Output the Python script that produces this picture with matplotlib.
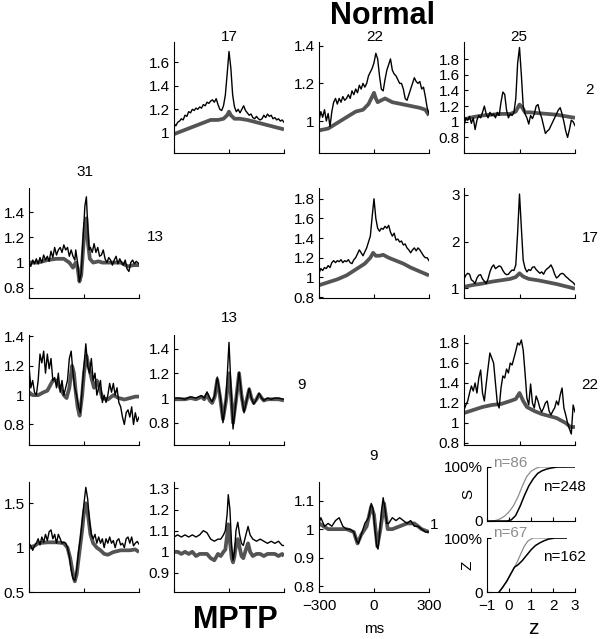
import matplotlib
matplotlib.use("Agg")
import matplotlib.pyplot as plt

plt.rcParams['font.family'] = ['Liberation Sans', 'DejaVu Sans']

# ---------------- data ----------------
t10 = list(range(-300, 301, 10))

# Row 1, col 2  (title 17)
blk_A = [1.08, 1.06, 1.09, 1.1, 1.12, 1.11, 1.15, 1.14, 1.18, 1.17, 1.2, 1.19, 1.21, 1.2, 1.22, 1.21,
         1.24, 1.23, 1.26, 1.25, 1.27, 1.28, 1.26, 1.29, 1.24, 1.2, 1.19, 1.23, 1.32, 1.5, 1.69, 1.55,
         1.32, 1.22, 1.18, 1.2, 1.17, 1.2, 1.23, 1.19, 1.17, 1.15, 1.16, 1.13, 1.12, 1.14, 1.12, 1.11,
         1.12, 1.15, 1.13, 1.16, 1.14, 1.15, 1.12, 1.13, 1.11, 1.12, 1.1, 1.11, 1.09]
t_gA = [-300, -250, -200, -150, -100, -60, -30, -10, 0, 10, 30, 60, 100, 150, 200, 250, 300]
gry_A = [0.99, 1.02, 1.05, 1.08, 1.11, 1.11, 1.12, 1.15, 1.18, 1.15, 1.12, 1.12, 1.11, 1.09, 1.07, 1.05, 1.03]

# Row 1, col 3  (title 22)
blk_B = [1.0, 1.05, 1.02, 1.06, 1.0, 1.04, 0.97, 1.05, 1.1, 1.12, 1.09, 1.12, 1.1, 1.13, 1.11, 1.12,
         1.14, 1.12, 1.16, 1.14, 1.17, 1.15, 1.19, 1.17, 1.2, 1.18, 1.2, 1.24, 1.26, 1.28, 1.31, 1.36,
         1.33, 1.24, 1.17, 1.16, 1.22, 1.27, 1.3, 1.33, 1.27, 1.25, 1.24, 1.22, 1.2, 1.2, 1.17, 1.12,
         1.11, 1.14, 1.17, 1.2, 1.23, 1.21, 1.2, 1.21, 1.17, 1.18, 1.13, 1.07, 1.04]
t_gB = [-300, -250, -200, -150, -100, -60, -30, -10, 0, 10, 20, 40, 60, 100, 150, 200, 250, 280, 300]
gry_B = [0.95, 0.96, 0.99, 1.02, 1.05, 1.06, 1.09, 1.13, 1.15, 1.12, 1.1, 1.11, 1.12, 1.1, 1.09, 1.08, 1.07, 1.06, 1.03]

# Row 1, col 4  (title 25)
blk_C = [0.95, 1.05, 1.02, 1.07, 0.98, 1.05, 0.9, 1.02, 1.08, 1.05, 1.12, 1.2, 1.1, 1.05, 1.12, 1.08,
         1.1, 1.05, 1.12, 1.08, 1.25, 1.38, 1.35, 1.15, 1.05, 1.1, 1.08, 1.12, 1.3, 1.75, 1.95, 1.6,
         1.2, 1.1, 1.05, 0.97, 1.08, 1.04, 1.1, 1.2, 1.22, 1.12, 1.05, 0.95, 0.85, 0.88, 0.9, 0.95,
         1.0, 1.05, 1.1, 1.15, 1.18, 1.1, 1.0, 0.88, 0.8, 0.9, 1.02, 1.0, 0.95]
t_gC = [-300, -250, -200, -150, -100, -50, -20, 0, 15, 30, 60, 100, 150, 200, 250, 300]
gry_C = [1.03, 1.06, 1.08, 1.09, 1.1, 1.1, 1.13, 1.22, 1.18, 1.12, 1.12, 1.11, 1.1, 1.09, 1.07, 1.05]

# Row 2, col 1  (title 31)
t_bD = [-300, -290, -280, -270, -260, -250, -240, -230, -220, -210, -200, -190, -180, -170, -160, -150,
        -140, -130, -120, -110, -100, -90, -80, -70, -60, -50, -45, -35, -25, -15, -5, 5, 13, 20, 28,
        35, 45, 55, 65, 75, 85, 95, 105, 115, 125, 135, 145, 155, 165, 175, 185, 195, 205, 215, 225,
        235, 245, 255, 265, 275, 285, 300]
blk_D = [1.0, 0.97, 1.02, 0.99, 1.03, 0.99, 1.04, 1.0, 1.06, 1.02, 1.05, 1.01, 1.09, 1.04, 1.12, 1.06,
         1.1, 1.12, 1.08, 1.14, 1.1, 1.12, 1.05, 1.1, 1.05, 1.02, 1.1, 1.0, 0.85, 0.92, 1.2, 1.45, 1.52,
         1.3, 1.1, 1.12, 1.08, 1.15, 1.08, 1.12, 1.05, 1.06, 1.1, 1.03, 1.0, 1.04, 1.02, 0.98, 1.02,
         1.05, 0.99, 1.03, 1.0, 0.98, 1.02, 0.95, 0.93, 1.0, 1.02, 0.99, 1.01, 0.99]
t_gD = [-300, -250, -200, -150, -110, -80, -60, -45, -35, -25, -15, -5, 5, 13, 22, 32, 50, 80, 100,
        150, 200, 240, 270, 300]
gry_D = [1.0, 1.0, 1.02, 1.03, 1.03, 1.0, 0.96, 1.0, 0.96, 0.85, 0.9, 1.1, 1.3, 1.35, 1.15, 1.03,
         1.0, 1.01, 1.0, 1.0, 1.0, 0.97, 0.98, 0.98]

# Row 2, col 3
blk_E = [1.04, 1.09, 1.07, 1.1, 1.09, 1.12, 1.1, 1.15, 1.17, 1.15, 1.17, 1.16, 1.18, 1.15, 1.17, 1.16,
         1.18, 1.15, 1.14, 1.18, 1.2, 1.24, 1.28, 1.25, 1.22, 1.26, 1.3, 1.36, 1.42, 1.62, 1.8, 1.6,
         1.5, 1.47, 1.5, 1.49, 1.52, 1.5, 1.53, 1.46, 1.42, 1.45, 1.38, 1.39, 1.36, 1.37, 1.33, 1.34,
         1.3, 1.28, 1.25, 1.28, 1.3, 1.27, 1.3, 1.28, 1.25, 1.22, 1.2, 1.2, 1.17]
t_gE = [-300, -250, -200, -150, -100, -50, -20, -5, 10, 30, 50, 80, 120, 160, 200, 250, 300]
gry_E = [0.92, 0.95, 0.98, 1.02, 1.08, 1.14, 1.2, 1.25, 1.22, 1.22, 1.23, 1.2, 1.17, 1.14, 1.1, 1.06, 1.02]

# Row 2, col 4
blk_F = [1.2, 1.28, 1.32, 1.3, 1.18, 1.15, 1.1, 1.22, 1.28, 1.29, 1.2, 1.15, 1.1, 1.2, 1.35, 1.45,
         1.5, 1.42, 1.45, 1.48, 1.46, 1.38, 1.32, 1.29, 1.3, 1.35, 1.39, 1.38, 1.5, 2.2, 3.02, 2.3,
         1.6, 1.43, 1.35, 1.4, 1.38, 1.45, 1.46, 1.4, 1.36, 1.32, 1.35, 1.3, 1.38, 1.42, 1.45, 1.5,
         1.42, 1.3, 1.22, 1.25, 1.3, 1.32, 1.3, 1.25, 1.22, 1.18, 1.15, 1.12, 1.07]
t_gF = [-300, -250, -200, -150, -100, -50, -20, 0, 20, 50, 100, 150, 200, 250, 300]
gry_F = [1.03, 1.07, 1.1, 1.14, 1.17, 1.2, 1.24, 1.32, 1.25, 1.2, 1.17, 1.13, 1.09, 1.04, 0.99]

# Row 3, col 1
blk_G = [1.2, 1.05, 1.1, 1.02, 1.0, 1.1, 1.28, 1.22, 1.3, 1.15, 1.28, 1.18, 1.25, 1.1, 1.12, 1.05,
         1.15, 1.02, 1.1, 1.0, 1.05, 1.1, 1.25, 1.3, 1.15, 1.05, 1.0, 0.92, 0.88, 1.05, 1.2, 1.35,
         1.2, 1.15, 1.25, 1.1, 1.15, 1.0, 1.05, 1.1, 0.95, 1.0, 0.95, 1.0, 1.08, 1.02, 1.08, 1.0,
         1.05, 0.95, 0.92, 0.85, 0.8, 0.88, 0.9, 0.85, 0.92, 0.8, 0.88, 0.82, 0.85]
t_gG = [-300, -280, -250, -220, -200, -170, -150, -130, -110, -95, -80, -65, -55, -45, -35, -24, -10,
        0, 13, 25, 40, 55, 70, 85, 100, 130, 160, 190, 220, 250, 280, 300]
gry_G = [1.02, 1.0, 1.0, 1.02, 1.03, 1.1, 1.1, 1.05, 1.0, 0.98, 1.05, 1.2, 1.15, 1.02, 0.92, 0.86,
         1.0, 1.15, 1.27, 1.2, 1.12, 1.05, 1.1, 1.05, 0.98, 0.97, 1.0, 0.98, 0.97, 0.98, 0.99, 0.99]

# Row 3, col 2  (title 13)
t_H = [-300, -270, -240, -210, -180, -150, -135, -120, -105, -92, -78, -64, -48, -33, -16, 0, 12, 22,
       38, 55, 68, 82, 96, 110, 122, 135, 150, 164, 178, 190, 210, 230, 250, 270, 300]
blk_H = [1.0, 1.0, 0.99, 1.01, 1.0, 1.02, 1.0, 1.05, 1.0, 0.97, 1.02, 1.17, 1.02, 0.8, 1.0, 1.45,
         1.05, 0.75, 0.98, 1.21, 1.03, 0.88, 0.98, 1.08, 1.0, 0.95, 0.99, 1.04, 1.0, 0.98, 1.0, 0.99,
         1.0, 1.0, 0.99]
gry_H = [0.99, 0.99, 0.99, 1.0, 0.99, 1.01, 0.99, 1.03, 0.98, 0.96, 1.01, 1.15, 1.0, 0.83, 0.98, 1.2,
         1.0, 0.8, 0.98, 1.2, 1.02, 0.9, 0.98, 1.07, 1.0, 0.96, 0.99, 1.03, 1.0, 0.98, 0.99, 0.99,
         0.99, 0.99, 0.98]

# Row 3, col 4
blk_I = [1.13, 1.18, 1.22, 1.3, 1.37, 1.32, 1.4, 1.3, 1.45, 1.53, 1.3, 1.22, 1.39, 1.55, 1.7, 1.65,
         1.6, 1.4, 1.2, 1.15, 1.35, 1.47, 1.45, 1.54, 1.5, 1.6, 1.58, 1.65, 1.72, 1.8, 1.78, 1.83,
         1.73, 1.5, 1.25, 1.18, 1.39, 1.2, 1.15, 1.27, 1.22, 1.15, 1.11, 1.15, 1.2, 1.22, 1.12, 1.08,
         1.12, 1.15, 1.22, 1.18, 1.28, 1.35, 1.15, 1.08, 1.0, 0.94, 0.89, 1.18, 1.11]
t_gI = [-300, -250, -200, -150, -100, -50, -20, 0, 20, 40, 80, 120, 160, 200, 250, 275, 300]
gry_I = [1.1, 1.13, 1.16, 1.18, 1.19, 1.22, 1.24, 1.3, 1.22, 1.16, 1.12, 1.09, 1.07, 1.05, 1.0, 0.96, 0.96]

# Row 4, col 1
blk_J = [1.05, 1.02, 0.97, 1.02, 1.05, 1.1, 1.03, 1.12, 1.06, 1.15, 1.08, 1.18, 1.2, 1.1, 1.15, 1.05,
         1.15, 1.1, 1.05, 1.06, 1.05, 1.0, 0.9, 0.75, 0.65, 0.63, 0.75, 0.95, 1.1, 1.3, 1.5, 1.68,
         1.55, 1.3, 1.15, 1.1, 1.15, 1.05, 1.12, 1.05, 1.1, 1.0, 1.1, 1.05, 1.12, 1.05, 1.08, 1.0,
         1.08, 1.1, 1.03, 1.05, 1.0, 1.1, 1.12, 1.05, 1.12, 1.02, 1.05, 1.07, 1.04]
t_gJ = [-300, -270, -250, -200, -150, -110, -90, -75, -60, -50, -40, -25, -10, 0, 10, 20, 35, 50, 70,
        90, 110, 130, 160, 200, 250, 280, 300]
gry_J = [1.0, 1.02, 1.05, 1.06, 1.06, 1.05, 1.0, 0.88, 0.7, 0.62, 0.7, 0.95, 1.2, 1.4, 1.5, 1.4,
         1.15, 1.05, 1.0, 0.97, 0.93, 0.92, 0.95, 0.97, 0.97, 0.98, 0.95]

# Row 4, col 2
t_K = [-300, -280, -260, -240, -220, -200, -180, -160, -140, -120, -100, -80, -60, -45, -30, -20, -10,
       -4, 5, 15, 22, 30, 38, 48, 58, 68, 78, 92, 104, 115, 130, 150, 170, 190, 210, 230, 250, 270,
       290, 300]
blk_K = [1.07, 1.08, 1.07, 1.08, 1.07, 1.08, 1.07, 1.08, 1.1, 1.09, 1.06, 1.05, 1.06, 1.06, 1.08,
         1.1, 1.18, 1.27, 1.2, 1.02, 0.96, 1.0, 1.1, 1.14, 1.08, 1.04, 1.03, 1.08, 1.12, 1.08, 1.06,
         1.05, 1.06, 1.05, 1.04, 1.05, 1.04, 1.05, 1.03, 1.03]
gry_K = [1.0, 1.0, 0.99, 1.0, 0.99, 1.0, 0.98, 0.99, 0.99, 0.99, 0.97, 0.96, 0.99, 0.98, 1.0, 1.01,
         1.08, 1.13, 1.05, 0.97, 0.95, 0.98, 1.03, 1.06, 1.02, 0.98, 0.97, 1.01, 1.04, 1.0, 0.98,
         0.99, 0.99, 0.98, 0.99, 0.99, 0.99, 0.98, 0.99, 0.98]

# Row 4, col 3  (title 9)
t_bL = [-300, -290, -270, -250, -230, -210, -190, -170, -150, -130, -110, -95, -85, -70, -50, -30,
        -15, -5, 5, 15, 22, 30, 40, 50, 60, 70, 80, 100, 120, 140, 160, 180, 200, 220, 240, 260, 280,
        300]
blk_L = [1.02, 1.04, 1.01, 1.02, 1.01, 1.03, 1.04, 1.01, 1.0, 1.0, 0.99, 0.96, 0.95, 0.98, 1.02,
         1.04, 1.09, 1.07, 1.0, 0.94, 0.93, 0.98, 1.06, 1.11, 1.07, 1.02, 1.02, 1.04, 1.03, 1.04,
         1.03, 1.02, 1.03, 1.01, 1.01, 1.0, 0.99, 0.99]
t_gL = [-300, -250, -200, -150, -110, -90, -70, -40, -15, 0, 18, 35, 55, 75, 100, 140, 180, 220, 260, 300]
gry_L = [1.02, 1.0, 1.0, 1.0, 0.99, 0.95, 0.98, 1.01, 1.08, 1.05, 0.94, 1.0, 1.09, 1.0, 1.0, 1.01,
         1.02, 1.02, 1.0, 0.99]

# Cumulative distributions (z scores, percent)
z_s_gray = [-0.8, -0.6, -0.4, -0.2, 0.0, 0.2, 0.4, 0.6, 0.8, 1.0, 1.2, 1.4, 2.6]
p_s_gray = [0, 1, 4, 9, 17, 28, 44, 64, 82, 92, 97, 100, 100]
z_s_blk = [-1.0, -0.1, 0.1, 0.3, 0.5, 0.7, 0.9, 1.1, 1.3, 1.5, 1.7, 1.9, 2.2, 3.0]
p_s_blk = [0, 0, 2, 10, 27, 47, 65, 78, 88, 93, 96, 98, 100, 100]
z_n_blk = [-0.45, -0.3, -0.1, 0.1, 0.25, 0.4, 0.6, 0.8, 1.0, 1.2, 1.4, 1.6, 1.8, 2.1, 2.6]
p_n_blk = [0, 8, 20, 35, 46, 50, 58, 68, 78, 86, 91, 95, 98, 100, 100]
z_n_gray = [-0.45, -0.3, -0.1, 0.1, 0.25, 0.4, 0.55, 0.7, 0.85, 1.0, 1.1, 2.6]
p_n_gray = [0, 8, 20, 35, 46, 58, 72, 85, 94, 98, 100, 100]

# ---------------- figure ----------------
W, H = 601, 639
fig = plt.figure(figsize=(W / 100, H / 100), dpi=100)
FS = 11
GRAY = (0.33, 0.33, 0.33)


def add_ax(x0, y0, x1, y1):
    return fig.add_axes([x0 / W, 1 - y1 / H, (x1 - x0) / W, (y1 - y0) / H])


def style(ax):
    for s in ('top', 'right'):
        ax.spines[s].set_visible(False)
    for s in ('left', 'bottom'):
        ax.spines[s].set_linewidth(0.8)
    ax.tick_params(direction='in', length=3, width=0.8, labelsize=FS, pad=3)


def fmt(v):
    s = ('%g' % v)
    return s.replace('-', '\u2212')


def panel(box, tb, yb, tg, yg, ylim, yticks, xlabels=False):
    ax = add_ax(*box)
    style(ax)
    ax.plot(tg, yg, color=GRAY, lw=2.7, solid_capstyle='butt')
    ax.plot(tb, yb, color='black', lw=1.0)
    ax.set_xlim(-300, 300)
    ax.set_ylim(*ylim)
    ax.set_xticks([-300, 0, 300])
    if xlabels:
        ax.set_xticklabels([fmt(v) for v in [-300, 0, 300]])
    else:
        ax.set_xticklabels([])
    ax.set_yticks(yticks)
    ax.set_yticklabels([fmt(v) for v in yticks])
    return ax


C1, C2, C3, C4 = (29, 139), (174, 284), (319, 429), (464, 575)
R1, R2, R3, R4 = (42, 153), (188, 298), (335, 445), (482, 592)

panel((C2[0], R1[0], C2[1], R1[1]), t10, blk_A, t_gA, gry_A, (0.83, 1.77), [1, 1.2, 1.4, 1.6])
panel((C3[0], R1[0], C3[1], R1[1]), t10, blk_B, t_gB, gry_B, (0.83, 1.42), [1, 1.2, 1.4])
panel((C4[0], R1[0], C4[1], R1[1]), t10, blk_C, t_gC, gry_C, (0.6, 2.02), [0.8, 1, 1.2, 1.4, 1.6, 1.8])
panel((C1[0], R2[0], C1[1], R2[1]), t_bD, blk_D, t_gD, gry_D, (0.72, 1.59), [0.8, 1, 1.2, 1.4])
panel((C3[0], R2[0], C3[1], R2[1]), t10, blk_E, t_gE, gry_E, (0.79, 1.91), [0.8, 1, 1.2, 1.4, 1.6, 1.8])
panel((C4[0], R2[0], C4[1], R2[1]), t10, blk_F, t_gF, gry_F, (0.79, 3.15), [1, 2, 3])
panel((C1[0], R3[0], C1[1], R3[1]), t10, blk_G, t_gG, gry_G, (0.66, 1.41), [0.8, 1, 1.2, 1.4])
panel((C2[0], R3[0], C2[1], R3[1]), t_H, blk_H, t_H, gry_H, (0.62, 1.51), [0.8, 1, 1.2, 1.4])
panel((C4[0], R3[0], C4[1], R3[1]), t10, blk_I, t_gI, gry_I, (0.78, 1.88), [0.8, 1, 1.2, 1.4, 1.6, 1.8])
panel((C1[0], R4[0], C1[1], R4[1]), t10, blk_J, t_gJ, gry_J, (0.5, 1.74), [0.5, 1, 1.5])
panel((C2[0], R4[0], C2[1], R4[1]), t_K, blk_K, t_K, gry_K, (0.81, 1.33), [0.9, 1, 1.1, 1.2, 1.3])
axL = panel((C3[0], R4[0], C3[1], R4[1]), t_bL, blk_L, t_gL, gry_L, (0.78, 1.165), [0.8, 0.9, 1, 1.1],
            xlabels=True)
axL.tick_params(axis='x', pad=5)

# cumulative panels
LGRAY = (0.55, 0.55, 0.55)
for (y0, y1, zg, pg, zb, pb, show_x, ylab) in [
        (467, 521, z_s_gray, p_s_gray, z_s_blk, p_s_blk, False, 'S'),
        (538, 592, z_n_gray, p_n_gray, z_n_blk, p_n_blk, True, 'Z')]:
    ax = add_ax(487, y0, 575, y1)
    style(ax)
    ax.plot(zg, pg, color=LGRAY, lw=0.9)
    ax.plot(zb, pb, color='black', lw=1.1)
    ax.set_xlim(-1, 3)
    ax.set_ylim(0, 100)
    ax.set_xticks([-1, 0, 1, 2, 3])
    if show_x:
        ax.set_xticklabels([fmt(v) for v in [-1, 0, 1, 2, 3]])
        ax.tick_params(axis='x', pad=5)
    else:
        ax.set_xticklabels([])
    ax.set_yticks([0, 100])
    ax.set_yticklabels(['0', '100%'])
    fig.text(468 / W, 1 - ((y0 + y1) / 2) / H, ylab, fontsize=FS, rotation=90,
             ha='center', va='center')


def ftext(x, y, s, **kw):
    fig.text(x / W, 1 - y / H, s, **kw)


# number labels
ftext(229, 37, '17', fontsize=FS, ha='center', va='center')
ftext(375, 37, '22', fontsize=FS, ha='center', va='center')
ftext(519, 37, '25', fontsize=FS, ha='center', va='center')
ftext(85, 172, '31', fontsize=FS, ha='center', va='center')
ftext(229, 318, '13', fontsize=FS, ha='center', va='center')
ftext(374, 456, '9', fontsize=FS, ha='center', va='center')
ftext(590, 90, '2', fontsize=FS, ha='center', va='center')
ftext(155, 237, '13', fontsize=FS, ha='center', va='center')
ftext(590, 238, '17', fontsize=FS, ha='center', va='center')
ftext(301, 385, '9', fontsize=FS, ha='center', va='center')
ftext(590, 385, '22', fontsize=FS, ha='center', va='center')
ftext(434, 525, '1', fontsize=FS, ha='center', va='center')

# n labels
ftext(493, 463, 'n=86', fontsize=FS, color=LGRAY, ha='left', va='center')
ftext(543, 487, 'n=248', fontsize=FS, ha='left', va='center')
ftext(493, 533, 'n=67', fontsize=FS, color=LGRAY, ha='left', va='center')
ftext(543, 557, 'n=162', fontsize=FS, ha='left', va='center')

# axis titles
ftext(374, 629, 'ms', fontsize=FS, ha='center', va='center')
ftext(533, 629, 'z', fontsize=15, ha='center', va='center')

# group titles
ftext(382, 16, 'Normal', fontsize=22, fontweight='bold', ha='center', va='center')
ftext(235, 620, 'MPTP', fontsize=22, fontweight='bold', ha='center', va='center')

fig.savefig('out.png', dpi=100)
